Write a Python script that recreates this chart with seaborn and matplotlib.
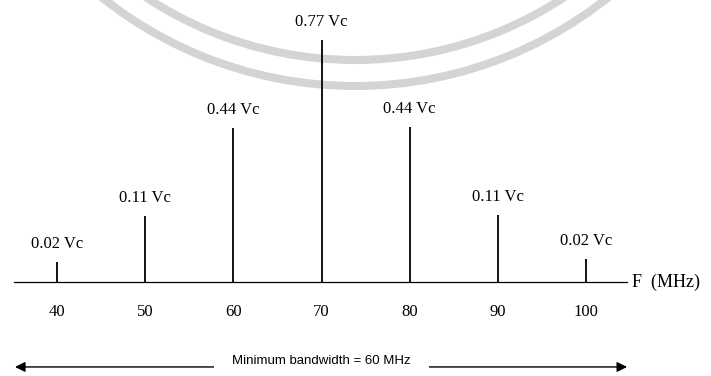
import matplotlib
matplotlib.use("Agg")
import matplotlib.pyplot as plt
from matplotlib.patches import Arc
import pandas as pd
import seaborn as sns

# ---- data ----
freq_mhz = [40, 50, 60, 70, 80, 90, 100]
amplitude_labels = ["0.02 Vc", "0.11 Vc", "0.44 Vc", "0.77 Vc", "0.44 Vc", "0.11 Vc", "0.02 Vc"]
# line lengths as drawn in the (not-to-scale) figure, relative to the carrier line
drawn_height = [0.083, 0.273, 0.636, 1.0, 0.64, 0.277, 0.095]
tick_labels = ["40", "50", "60", "70", "80", "90", "100"]
axis_label = "F  (MHz)"
bandwidth_text = "Minimum bandwidth = 60 MHz"
bandwidth_center = 70
bandwidth_ends = [35.24, 104.65]
axis_ends = [35.12, 104.65]

df = pd.DataFrame({"freq": freq_mhz, "height": drawn_height, "label": amplitude_labels})

sns.set_theme(style="white")
plt.rcParams["font.family"] = ["Liberation Serif", "DejaVu Serif"]

fig = plt.figure(figsize=(7.11, 3.76), dpi=100)
fig.patch.set_facecolor("white")

# faint scanned watermark arcs
wm = fig.add_axes([0, 0, 1, 1], zorder=0)
wm.set_xlim(0, 711)
wm.set_ylim(376, 0)
wm.axis("off")
for r in (380, 406):
    wm.add_patch(Arc((355, -320), 2 * r, 2 * r, color="#d4d4d4", lw=5.8))

ax = fig.add_axes([0, 0, 1, 1], zorder=1)
ax.patch.set_alpha(0)
ax.vlines(df["freq"], 0, df["height"], colors="black", lw=1.3)
ax.set_xlim(33.535, 114.17)
ax.set_ylim(-0.3884, 1.1653)

sns.despine(ax=ax, left=True)
ax.spines["bottom"].set_position(("data", 0))
ax.spines["bottom"].set_bounds(*axis_ends)
ax.spines["bottom"].set_color("black")
ax.spines["bottom"].set_linewidth(0.9)

ax.set_xticks(freq_mhz, tick_labels)
ax.tick_params(axis="x", length=0, pad=16, labelsize=12, colors="black")
ax.set_yticks([])

for f, h, lab in zip(df["freq"], df["height"], df["label"]):
    ax.annotate(lab, (f, h), xytext=(0, 18), textcoords="offset pixels",
                ha="center", va="center", fontsize=12, color="black")

ax.annotate(axis_label, (axis_ends[1], 0), xytext=(5, 0), textcoords="offset pixels",
            ha="left", va="center", fontsize=13, color="black")

yb = -0.351
for end in bandwidth_ends:
    ax.annotate("", xy=(end, yb), xytext=(bandwidth_center, yb),
                arrowprops=dict(arrowstyle="-|>", color="black", lw=1.0,
                                mutation_scale=15, shrinkA=0, shrinkB=0))
ax.annotate(bandwidth_text, (bandwidth_center, yb), xytext=(0, 3), textcoords="offset pixels",
            ha="center", va="baseline", fontsize=9.5, family=["Liberation Sans", "DejaVu Sans"],
            color="black",
            bbox=dict(boxstyle="square,pad=1.4", fc="white", ec="none"))

fig.savefig("out.png", dpi=100)
